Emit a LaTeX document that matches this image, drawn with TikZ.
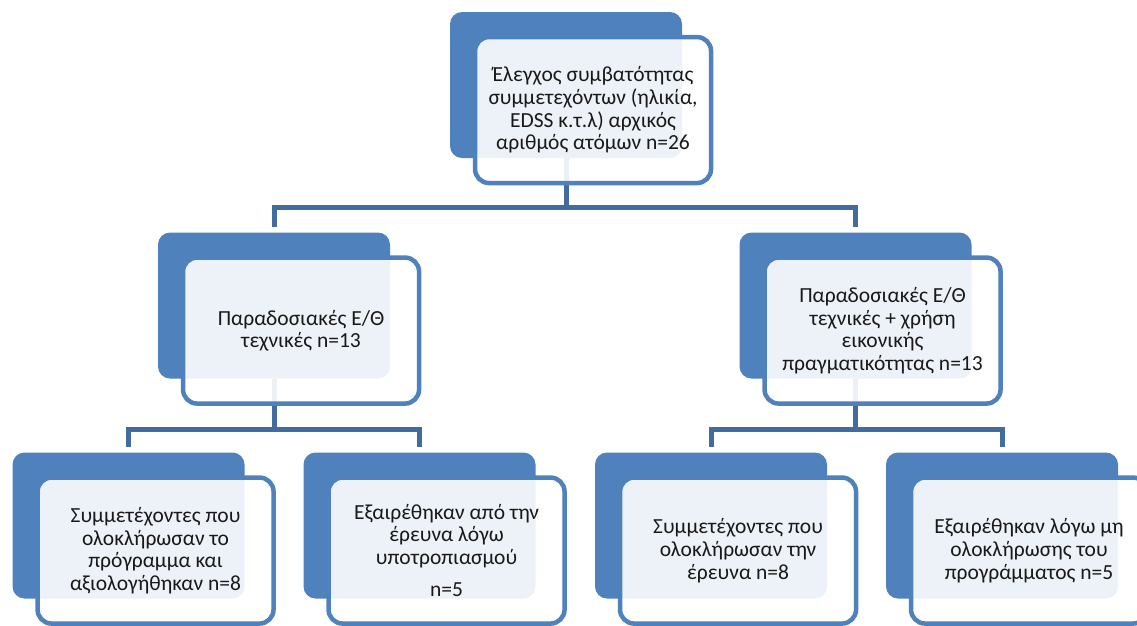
\documentclass[tikz,border=0pt]{standalone}
\usepackage{fontspec}
\setmainfont{Carlito}
\usetikzlibrary{positioning,backgrounds}
\definecolor{boxblue}{RGB}{79,129,189}
\definecolor{linkblue}{RGB}{66,107,160}

\begin{document}
\begin{tikzpicture}[x=1pt,y=-1pt,
				back node/.style = {rectangle,rounded corners=12pt,fill=boxblue,inner sep=0pt,
					minimum width=232pt,minimum height=146pt},
				text node/.style = {rectangle,rounded corners=14pt,draw=boxblue,line width=4.5pt,
					fill=white,fill opacity=0.9,text opacity=1,text=black!90,align=center,
					minimum width=236pt,minimum height=146pt,inner sep=2pt,
					font=\fontsize{21.5}{22.6}\selectfont},
				link/.style = {draw=linkblue,line width=5pt,shorten >=5pt}]
				
				\useasboundingbox (0,0) rectangle (1137,625);
				
				\node[back node] (1) at (566,85) {};
				\node[back node] (2) at (274,305.5) {};
				\node[back node] (3) at (855.5,305.5) {};
				\node[back node] (4) at (128.5,525.5) {};
				\node[back node] (5) at (419.5,525.5) {};
				\node[back node] (6) at (711,525.5) {};
				\node[back node] (7) at (1002,525.5) {};
				
				\node[text node] [below right=23pt and 23pt of 1.north west] (1t)
					{Έλεγχος συμβατότητας\\ συμμετεχόντων (ηλικία,\\ EDSS κ.τ.λ) αρχικός\\ αριθμός ατόμων n=26};
				\node[text node] [below right=23pt and 23pt of 2.north west] (2t)
					{Παραδοσιακές Ε/Θ\\ τεχνικές n=13};
				\node[text node] [below right=23pt and 23pt of 3.north west] (3t)
					{Παραδοσιακές Ε/Θ\\ τεχνικές + χρήση\\ εικονικής\\ πραγματικότητας n=13};
				\node[text node] [below right=23pt and 23pt of 4.north west] (4t)
					{Συμμετέχοντες που\\ ολοκλήρωσαν το\\ πρόγραμμα και\\ αξιολογήθηκαν n=8};
				\node[text node] [below right=23pt and 23pt of 5.north west] (5t)
					{Εξαιρέθηκαν από την\\ έρευνα λόγω\\ υποτροπιασμού\\[10pt] n=5};
				\node[text node] [below right=23pt and 23pt of 6.north west] (6t)
					{Συμμετέχοντες που\\ ολοκλήρωσαν την\\ έρευνα n=8};
				\node[text node] [below right=23pt and 23pt of 7.north west] (7t)
					{Εξαιρέθηκαν λόγω μη\\ ολοκλήρωσης του\\ προγράμματος n=5};
				
				\begin{scope}[on background layer]
					\draw[link] (1.south) -- ++(0,49) -| (2.north);
					\draw[link] (1.south) -- ++(0,49) -| (3.north);
					\draw[link] (2.south) -- ++(0,51) -| (4.north);
					\draw[link] (2.south) -- ++(0,51) -| (5.north);
					\draw[link] (3.south) -- ++(0,51) -| (6.north);
					\draw[link] (3.south) -- ++(0,51) -| (7.north);
				\end{scope}
				\end{tikzpicture}
\end{document}
